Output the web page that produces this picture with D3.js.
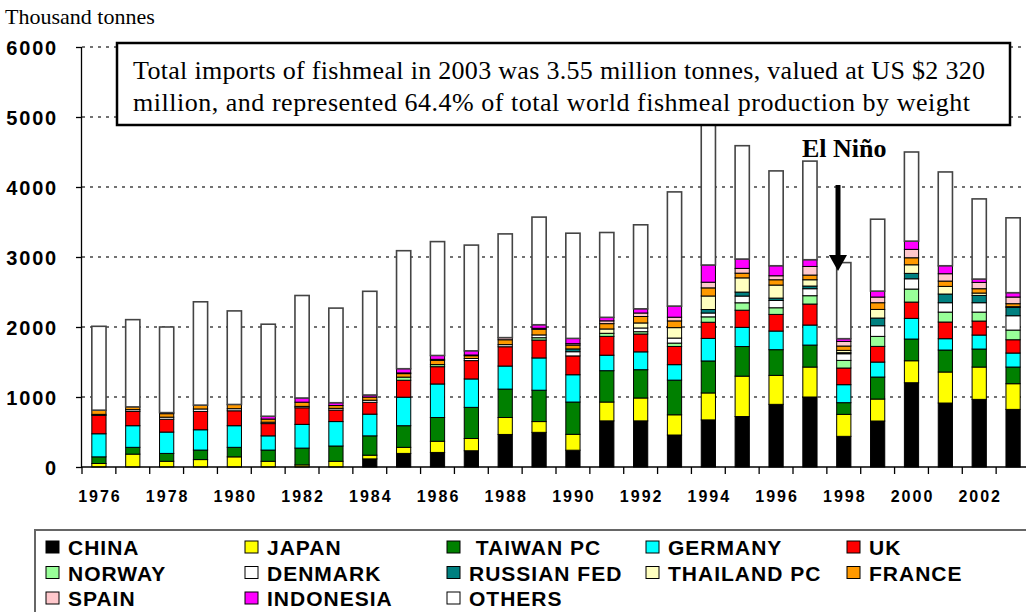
<!DOCTYPE html>
<html>
<head>
<meta charset="utf-8">
<script src="https://cdn.jsdelivr.net/npm/d3@7/dist/d3.min.js"></script>
<style>
  body { margin: 0; background: #fff; }
  svg { display: block; }
</style>
</head>
<body>
<svg id="chart" width="1026" height="612"></svg>
<script>
// Données (milliers de tonnes)
const annees = d3.range(1976, 2004);
const pays = ["CHINA", "JAPAN", "TAIWAN PC", "GERMANY", "UK", "NORWAY", "DENMARK",
              "RUSSIAN FED", "THAILAND PC", "FRANCE", "SPAIN", "INDONESIA", "OTHERS"];
const couleurs = ["#000000", "#ffff00", "#008000", "#00ffff", "#ff0000", "#99ff99", "#ffffff",
                  "#008080", "#ffffc0", "#ff9900", "#ffc8cc", "#ff00ff", "#ffffff"];

const china     = [0, 0, 0, 0, 0, 0, 0, 0, 116, 194, 208, 232, 465, 495, 240, 659, 659, 457, 673, 721, 895, 1000, 438, 657, 1204, 914, 966, 823];
const japan     = [50, 184, 82, 106, 145, 82, 30, 82, 53, 87, 160, 175, 242, 154, 227, 269, 327, 289, 385, 577, 414, 428, 314, 314, 314, 443, 462, 367];
const taiwan    = [95, 97, 112, 136, 136, 160, 240, 218, 276, 309, 339, 445, 406, 448, 461, 448, 404, 495, 457, 423, 367, 314, 167, 314, 310, 314, 257, 238];
const germany   = [330, 309, 305, 290, 309, 203, 339, 349, 310, 407, 479, 406, 329, 461, 390, 221, 255, 221, 322, 274, 266, 286, 257, 214, 295, 162, 200, 200];
const uk        = [262, 204, 183, 262, 213, 175, 237, 164, 169, 242, 247, 262, 276, 255, 269, 269, 255, 260, 231, 245, 238, 300, 238, 224, 233, 238, 200, 190];
const norway    = [0, 0, 0, 0, 0, 0, 0, 0, 0, 45, 30, 0, 0, 34, 0, 44, 33, 48, 77, 106, 95, 119, 109, 143, 186, 142, 128, 138];
const denmark   = [15, 25, 30, 35, 30, 20, 20, 25, 30, 0, 0, 30, 30, 40, 60, 0, 53, 72, 55, 96, 105, 100, 95, 152, 147, 134, 134, 205];
const russie    = [0, 0, 0, 0, 0, 0, 0, 0, 0, 0, 0, 0, 0, 0, 40, 0, 0, 0, 50, 57, 33, 38, 15, 110, 77, 124, 104, 119];
const thailande = [0, 0, 0, 0, 0, 0, 0, 0, 0, 0, 0, 0, 0, 0, 0, 62, 72, 149, 193, 203, 186, 90, 33, 123, 123, 109, 34, 10];
const france    = [60, 40, 50, 55, 60, 45, 60, 40, 45, 50, 60, 40, 70, 80, 55, 76, 92, 96, 116, 67, 76, 67, 62, 96, 100, 76, 62, 43];
const espagne   = [0, 0, 0, 0, 0, 0, 0, 0, 0, 10, 15, 10, 30, 15, 20, 40, 50, 53, 81, 68, 57, 123, 66, 81, 120, 105, 90, 95];
const indonesie = [0, 0, 15, 0, 0, 40, 60, 40, 30, 60, 55, 60, 0, 50, 75, 50, 60, 159, 246, 134, 143, 96, 39, 85, 118, 114, 48, 62];
const autres    = [1198, 1246, 1223, 1476, 1337, 1315, 1464, 1352, 1481, 1686, 1627, 1510, 1482, 1538, 1503, 1212, 1200, 1631, 2564, 1619, 1355, 1409, 1087, 1027, 1273, 1340, 1145, 1070];

const series = [china, japan, taiwan, germany, uk, norway, denmark, russie, thailande, france, espagne, indonesie, autres];
const yTicks = [0, 1000, 2000, 3000, 4000, 5000, 6000];
const xLabels = annees.filter(a => a % 2 === 0);

const note = ["Total imports of fishmeal in 2003 was 3.55 million tonnes, valued at US $2 320",
              "million, and represented 64.4% of total world fishmeal production by weight"];

// Table pour d3.stack
const table = annees.map((a, i) => {
    const ligne = { annee: a };
    pays.forEach((p, k) => { ligne[p] = series[k][i]; });
    return ligne;
});
const pile = d3.stack().keys(pays)(table);

const svg = d3.select("#chart");
const gauche = 82, bas = 467, haut = 47;
const sans = "Liberation Sans, Arial, sans-serif";
const serif = "Liberation Serif, Times New Roman, serif";

const x = d3.scaleBand().domain(annees).range([gauche, 1030])
    .paddingInner(0.58).paddingOuter(0.29);
const y = d3.scaleLinear().domain([0, 6000]).range([bas, haut]);
const ecart = x.step() - x.bandwidth();

// Titre de l'axe
svg.append("text").attr("x", 5).attr("y", 24)
    .attr("font-family", serif).attr("font-size", 22).text("Thousand tonnes");

// Grille pointillée
svg.append("g").selectAll("line").data(yTicks.filter(d => d > 0)).join("line")
    .attr("x1", gauche).attr("x2", 1026)
    .attr("y1", d => y(d)).attr("y2", d => y(d))
    .attr("stroke", "#444").attr("stroke-width", 1.5).attr("stroke-dasharray", "3,5");

// Barres empilées
const gBarres = svg.append("g");
pile.forEach((couche, k) => {
    gBarres.append("g").selectAll("rect").data(couche).join("rect")
        .attr("x", d => x(d.data.annee))
        .attr("width", x.bandwidth())
        .attr("y", d => y(d[1]))
        .attr("height", d => Math.max(0, y(d[0]) - y(d[1])))
        .attr("fill", couleurs[k])
        .attr("stroke", k === pays.length - 1 ? "#444" : "#000")
        .attr("stroke-width", k === pays.length - 1 ? 1.6 : 1)
        .attr("display", d => d[1] - d[0] > 0 ? null : "none");
});

// Axe Y
const axeY = svg.append("g").attr("transform", `translate(${gauche},0)`)
    .call(d3.axisLeft(y).tickValues(yTicks).tickSize(6).tickPadding(18).tickFormat(d3.format("d")));
axeY.select(".domain").attr("stroke", "#000").attr("stroke-width", 1.3).attr("d", `M-0.5,${haut}V${bas}`);
axeY.selectAll(".tick line").attr("stroke", "#000").attr("stroke-width", 1.3);
axeY.selectAll("text").attr("font-family", sans)
    .attr("font-weight", "bold").attr("font-size", 20).attr("letter-spacing", 1.8)
    .attr("fill", "#000").attr("dy", "0.36em");

// Axe X
svg.append("line").attr("x1", gauche).attr("x2", 1026).attr("y1", bas).attr("y2", bas)
    .attr("stroke", "#000").attr("stroke-width", 1.3);
svg.append("g").selectAll("line").data(annees).join("line")
    .attr("x1", d => x(d) - ecart / 2).attr("x2", d => x(d) - ecart / 2)
    .attr("y1", bas).attr("y2", bas + 7)
    .attr("stroke", "#000").attr("stroke-width", 1.3);
svg.append("g").selectAll("text").data(xLabels).join("text")
    .attr("x", d => x(d) + x.bandwidth() / 2 + 1).attr("y", 502)
    .attr("text-anchor", "middle")
    .attr("font-family", sans)
    .attr("font-weight", "bold").attr("font-size", 16).attr("letter-spacing", 2)
    .text(d => d);

// Encadré
svg.append("rect").attr("x", 117).attr("y", 43).attr("width", 893).attr("height", 82)
    .attr("fill", "#fff").attr("stroke", "#000").attr("stroke-width", 2.5);
svg.append("g").selectAll("text").data(note).join("text")
    .attr("x", 133).attr("y", (d, i) => 79 + i * 32)
    .attr("font-family", serif)
    .attr("font-size", 26).attr("textLength", (d, i) => i === 0 ? 852 : 837)
    .text(d => d);

// El Niño
svg.append("text").attr("x", 802).attr("y", 157)
    .attr("font-family", serif)
    .attr("font-weight", "bold").attr("font-size", 26).text("El Niño");
svg.append("line").attr("x1", 838).attr("x2", 838).attr("y1", 185).attr("y2", 258)
    .attr("stroke", "#000").attr("stroke-width", 5);
svg.append("path").attr("d", "M829,255 L847,255 L838,271 Z").attr("fill", "#000");

// Légende
svg.append("rect").attr("x", 35).attr("y", 530).attr("width", 1000).attr("height", 100)
    .attr("fill", "#fff").attr("stroke", "#666").attr("stroke-width", 2);
const colX = [46, 245, 447, 646, 847];
const gLeg = svg.append("g").selectAll("g").data(pays).join("g")
    .attr("transform", (d, i) => `translate(${colX[i % 5]},${555 + Math.floor(i / 5) * 25.5})`);
gLeg.append("rect").attr("x", 0).attr("y", -14).attr("width", 13).attr("height", 12)
    .attr("fill", (d, i) => couleurs[i]).attr("stroke", "#000").attr("stroke-width", 1);
gLeg.append("text").attr("x", 22).attr("y", 0)
    .attr("font-family", sans)
    .attr("font-weight", "bold").attr("font-size", 21).attr("letter-spacing", 1)
    .attr("xml:space", "preserve")
    .text(d => d === "TAIWAN PC" ? " TAIWAN PC" : d);
</script>
</body>
</html>
